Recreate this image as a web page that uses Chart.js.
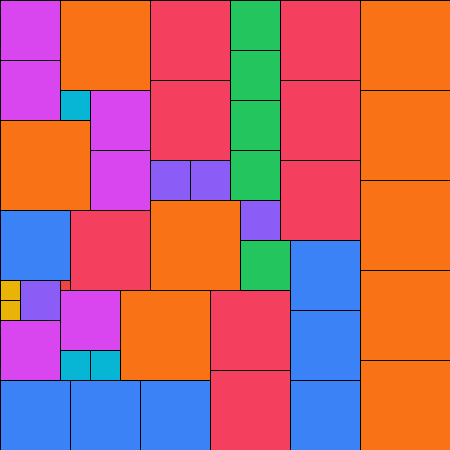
<!DOCTYPE html>
<html>
<head>
<meta charset="utf-8">
<script src="https://cdn.jsdelivr.net/npm/chart.js@4/dist/chart.umd.min.js"></script>
<style>
  html, body { margin: 0; padding: 0; background: #fff; }
  #chart { display: block; }
</style>
</head>
<body>
<canvas id="chart" width="450" height="450"></canvas>
<script>
// square side for each group (grid units, the grid is 45 x 45)
const groups = ['orange', 'rose', 'blue', 'magenta', 'green', 'purple', 'cyan', 'yellow', 'red'];
const sides = [9, 8, 7, 6, 5, 4, 3, 2, 1];

// top-left corner of every square, per group
const corners = [
  [[6, 0], [0, 12], [15, 20], [12, 29], [36, 0], [36, 9], [36, 18], [36, 27], [36, 36]],
  [[15, 0], [15, 8], [28, 0], [28, 8], [28, 16], [7, 21], [21, 29], [21, 37]],
  [[0, 21], [29, 24], [29, 31], [29, 38], [0, 38], [7, 38], [14, 38]],
  [[0, 0], [0, 6], [9, 9], [9, 15], [0, 32], [6, 29]],
  [[23, 0], [23, 5], [23, 10], [23, 15], [24, 24]],
  [[15, 16], [19, 16], [24, 20], [2, 28]],
  [[6, 9], [6, 35], [9, 35]],
  [[0, 28], [0, 30]],
  [[6, 28]],
];

const colors = ['#f97316', '#f43f5e', '#3b82f6', '#d946ef', '#22c55e', '#8b5cf6', '#06b6d4', '#eab308', '#ef4444'];

const datasets = groups.map((g, i) => ({
  label: g,
  data: corners[i].map(([x, y]) => ({ x: x + sides[i] / 2, y: y + sides[i] / 2 })),
  pointRadius: 0,
  side: sides[i],
  color: colors[i],
}));

const squaresPlugin = {
  id: 'squares',
  afterDatasetsDraw(chart) {
    const { ctx, scales: { x, y } } = chart;
    ctx.save();
    chart.data.datasets.forEach((ds) => {
      const half = ds.side / 2;
      ds.data.forEach((p) => {
        const x0 = x.getPixelForValue(p.x - half);
        const x1 = x.getPixelForValue(p.x + half);
        const y0 = y.getPixelForValue(p.y - half);
        const y1 = y.getPixelForValue(p.y + half);
        ctx.fillStyle = ds.color;
        ctx.fillRect(x0, y0, x1 - x0, y1 - y0);
        ctx.strokeStyle = '#000';
        ctx.lineWidth = 1;
        ctx.strokeRect(Math.round(x0) + 0.5, Math.round(y0) + 0.5, x1 - x0, y1 - y0);
      });
    });
    ctx.restore();
  },
};

new Chart(document.getElementById('chart'), {
  type: 'scatter',
  data: { datasets },
  options: {
    responsive: false,
    animation: false,
    layout: { padding: 0 },
    plugins: { legend: { display: false }, tooltip: { enabled: false } },
    scales: {
      x: { type: 'linear', min: 0, max: 45, display: false },
      y: { type: 'linear', min: 0, max: 45, reverse: true, display: false },
    },
  },
  plugins: [squaresPlugin],
});
</script>
</body>
</html>
